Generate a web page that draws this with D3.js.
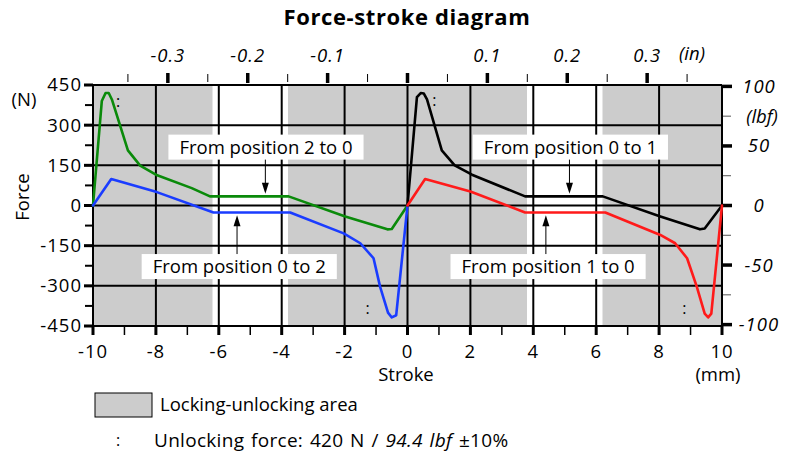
<!DOCTYPE html>
<html>
<head>
<meta charset="utf-8">
<script src="https://cdn.jsdelivr.net/npm/d3@7"></script>
<style>
  html, body { margin: 0; padding: 0; background: #fff; }
  svg { display: block; font-family: "Open Sans", "Liberation Sans", sans-serif; }
  .num { letter-spacing: 1px; }
</style>
</head>
<body>
<svg id="chart" width="797" height="454"></svg>
<script>
// Stroke (mm) and force (N) for each travel direction
const strokeGreen = [-10, -9.72, -9.6, -9.5, -9.4, -8.89, -8.5, -8.0, -6.86, -6.28, -3.78, -1.98, -0.64, -0.5, 0];
const forceGreen  = [0, 390, 420, 420, 396, 206, 149, 115, 65, 34, 34, -41, -89, -88, 0];

const strokeBlue = [-10, -9.42, -7.97, -6.17, -3.73, -2.03, -1.5, -1.08, -0.87, -0.62, -0.5, -0.36, 0];
const forceBlue  = [0, 99, 50, -26, -26, -104, -141, -197, -304, -400, -418, -410, 0];

const strokeBlack = [0, 0.3, 0.42, 0.52, 0.62, 1.09, 1.5, 2.05, 3.74, 6.21, 8.04, 9.3, 9.45, 10];
const forceBlack  = [0, 405, 420, 418, 396, 206, 150, 115, 34, 34, -41, -89, -86, 0];

const strokeRed = [0, 0.56, 2.0, 3.74, 6.29, 8.04, 8.51, 8.89, 9.2, 9.45, 9.56, 9.66, 10];
const forceRed  = [0, 99, 52, -26, -26, -110, -141, -197, -304, -404, -418, -404, 0];

// Locking-unlocking zones (mm)
const zoneStart = [-10, -3.8, 6.2];
const zoneEnd   = [-6.2, 3.8, 10];

// Axis ticks
const mmTicks = [-10, -8, -6, -4, -2, 0, 2, 4, 6, 8, 10];
const mmMinor = [-9, -7, -5, -3, -1, 1, 3, 5, 7, 9];
const newtonTicks = [-450, -300, -150, 0, 150, 300, 450];
const newtonMinor = [-375, -225, -75, 75, 225, 375];
const inchTicks = [-0.3, -0.2, -0.1, 0, 0.1, 0.2, 0.3];
const inchLabels = ["-0.3", "-0.2", "-0.1", "", "0.1", "0.2", "0.3"];
const inchMinor = [-0.35, -0.25, -0.15, -0.05, 0.05, 0.15, 0.25, 0.35];
const lbfTicks = [-100, -50, 0, 50, 100];
const lbfMinor = [-75, -25, 25, 75];

// Callouts: text, box centre (mm, N), arrow x (mm), arrow tip (N)
const calloutText  = ["From position 2 to 0", "From position 0 to 2", "From position 0 to 1", "From position 1 to 0"];
const calloutX     = [-4.5, -5.35, 5.18, 4.47];
const calloutY     = [218, -228, 218, -228];
const calloutArrowX = [-4.52, -5.42, 5.15, 4.4];
const calloutTip   = [44, -36, 44, -36];

// Unlocking force markers (mm, N)
const markX = [-9.2, 0.85, -1.27, 8.8];
const markY = [390, 393, -385, -385];

const N_PER_LBF = 4.44822;
const MM_PER_IN = 25.4;

const svg = d3.select("#chart");
const x = d3.scaleLinear().domain([-10, 10]).range([93, 722]);
const y = d3.scaleLinear().domain([-450, 450]).range([326, 85]);
const xIn = d3.scaleLinear().domain([-10 / MM_PER_IN, 10 / MM_PER_IN]).range([93, 722]);
const yLbf = d3.scaleLinear().domain([-450 / N_PER_LBF, 450 / N_PER_LBF]).range([326, 85]);

const gray = "#cccccc";
const signed = (d) => (d < 0 ? "-" + Math.abs(d) : String(d));

// Shaded zones
svg.append("g").selectAll("rect").data(zoneStart).join("rect")
  .attr("x", (d) => x(d))
  .attr("width", (d, i) => x(zoneEnd[i]) - x(d))
  .attr("y", y(450))
  .attr("height", y(-450) - y(450))
  .attr("fill", gray);

// Grid
const grid = svg.append("g").attr("stroke", "#000").attr("stroke-width", 2);
grid.selectAll("line.v").data(mmTicks).join("line")
  .attr("x1", (d) => x(d)).attr("x2", (d) => x(d))
  .attr("y1", y(450)).attr("y2", y(-450));
grid.selectAll("line.h").data(newtonTicks).join("line")
  .attr("class", "h")
  .attr("x1", x(-10)).attr("x2", x(10))
  .attr("y1", (d) => y(d)).attr("y2", (d) => y(d));

// Bottom axis (mm)
const axisBottomG = svg.append("g").attr("transform", `translate(0,${y(-450)})`);
axisBottomG.selectAll("line.maj").data(mmTicks).join("line")
  .attr("x1", (d) => x(d)).attr("x2", (d) => x(d))
  .attr("y1", 0).attr("y2", 9).attr("stroke", "#000").attr("stroke-width", 3);
axisBottomG.selectAll("line.min").data(mmMinor).join("line")
  .attr("class", "min")
  .attr("x1", (d) => x(d)).attr("x2", (d) => x(d))
  .attr("y1", 0).attr("y2", 9).attr("stroke", "#000").attr("stroke-width", 1.5);
axisBottomG.selectAll("text").data(mmTicks).join("text")
  .attr("class", "num")
  .attr("x", (d) => x(d)).attr("y", 32)
  .attr("text-anchor", "middle").attr("font-size", 18.5)
  .text(signed);

// Left axis (N)
const axisLeftG = svg.append("g").attr("transform", `translate(${x(-10)},0)`);
axisLeftG.selectAll("line.maj").data(newtonTicks).join("line")
  .attr("x1", -9).attr("x2", 0)
  .attr("y1", (d) => y(d)).attr("y2", (d) => y(d))
  .attr("stroke", "#000").attr("stroke-width", 3);
axisLeftG.selectAll("line.min").data(newtonMinor).join("line")
  .attr("class", "min")
  .attr("x1", -8).attr("x2", 0)
  .attr("y1", (d) => y(d)).attr("y2", (d) => y(d))
  .attr("stroke", "#000").attr("stroke-width", 2);
axisLeftG.selectAll("text").data(newtonTicks).join("text")
  .attr("class", "num")
  .attr("x", -11).attr("y", (d) => y(d))
  .attr("dy", "0.35em")
  .attr("text-anchor", "end").attr("font-size", 18.5)
  .text(signed);

// Top axis (in)
const axisTopG = svg.append("g");
axisTopG.selectAll("line.maj").data(inchTicks).join("line")
  .attr("x1", (d) => xIn(d)).attr("x2", (d) => xIn(d))
  .attr("y1", 73).attr("y2", 83)
  .attr("stroke", "#000").attr("stroke-width", 3.5);
axisTopG.selectAll("line.min").data(inchMinor).join("line")
  .attr("class", "min")
  .attr("x1", (d) => xIn(d)).attr("x2", (d) => xIn(d))
  .attr("y1", 74).attr("y2", 82)
  .attr("stroke", "#000").attr("stroke-width", 1);
axisTopG.selectAll("text").data(inchTicks).join("text")
  .attr("class", "num")
  .attr("x", (d) => xIn(d)).attr("y", 62)
  .attr("text-anchor", "middle").attr("font-size", 18.5).attr("font-style", "italic")
  .text((d, i) => inchLabels[i]);
axisTopG.append("text").attr("x", 692).attr("y", 60)
  .attr("text-anchor", "middle").attr("font-size", 18.5).attr("font-style", "italic")
  .text("(in)");

// Right axis (lbf)
const axisRightG = svg.append("g").attr("transform", `translate(${x(10)},0)`);
axisRightG.selectAll("line.maj").data(lbfTicks).join("line")
  .attr("x1", 0).attr("x2", 10)
  .attr("y1", (d) => yLbf(d)).attr("y2", (d) => yLbf(d))
  .attr("stroke", "#000").attr("stroke-width", 3.5);
axisRightG.selectAll("line.min").data(lbfMinor).join("line")
  .attr("class", "min")
  .attr("x1", 0).attr("x2", 9)
  .attr("y1", (d) => yLbf(d)).attr("y2", (d) => yLbf(d))
  .attr("stroke", "#555").attr("stroke-width", 1);
axisRightG.selectAll("text").data(lbfTicks).join("text")
  .attr("class", "num")
  .attr("x", 37).attr("y", (d) => yLbf(d))
  .attr("dy", "0.35em")
  .attr("text-anchor", "middle").attr("font-size", 18.5).attr("font-style", "italic")
  .text(signed);
axisRightG.append("text").attr("x", 40).attr("y", yLbf(75)).attr("dy", "0.35em")
  .attr("text-anchor", "middle").attr("font-size", 18.5).attr("font-style", "italic")
  .text("(lbf)");

// Frame edges
svg.append("line").attr("x1", x(-10)).attr("x2", x(-10)).attr("y1", y(450)).attr("y2", y(-450))
  .attr("stroke", "#000").attr("stroke-width", 2);
svg.append("line").attr("x1", x(10)).attr("x2", x(10)).attr("y1", y(450)).attr("y2", y(-450))
  .attr("stroke", "#000").attr("stroke-width", 2);

// Axis titles
svg.append("text").attr("x", 24).attr("y", 100).attr("dy", "0.35em")
  .attr("text-anchor", "middle").attr("font-size", 18.5).text("(N)");
svg.append("text").attr("transform", "translate(23,197) rotate(-90)").attr("dy", "0.35em")
  .attr("text-anchor", "middle").attr("font-size", 18.5).text("Force");
svg.append("text").attr("x", 406).attr("y", 381)
  .attr("text-anchor", "middle").attr("font-size", 18.5).text("Stroke");
svg.append("text").attr("x", 718).attr("y", 381)
  .attr("text-anchor", "middle").attr("font-size", 18.5).text("(mm)");

// Title
svg.append("text").attr("x", 407).attr("y", 25)
  .attr("text-anchor", "middle").attr("font-size", 22).attr("font-weight", "bold")
  .attr("letter-spacing", 0.6)
  .text("Force-stroke diagram");

// Curves
const line = d3.line().x((d) => x(d[0])).y((d) => y(d[1]));
const series = [
  { xs: strokeGreen, ys: forceGreen, color: "#0a8a0a" },
  { xs: strokeBlue, ys: forceBlue, color: "#1a3cff" },
  { xs: strokeBlack, ys: forceBlack, color: "#000000" },
  { xs: strokeRed, ys: forceRed, color: "#ff1a1a" }
];
svg.append("g").selectAll("path").data(series).join("path")
  .attr("d", (s) => line(s.xs.map((v, i) => [v, s.ys[i]])))
  .attr("fill", "none")
  .attr("stroke", (s) => s.color)
  .attr("stroke-width", 2.6)
  .attr("stroke-linejoin", "round")
  .attr("stroke-linecap", "round");

// Unlocking force markers
svg.append("g").selectAll("text").data(markX).join("text")
  .attr("x", (d) => x(d)).attr("y", (d, i) => y(markY[i]))
  .attr("dy", "0.35em")
  .attr("text-anchor", "middle").attr("font-size", 16)
  .text(":");

// Callouts
const callouts = svg.append("g");
calloutText.forEach((t, i) => {
  const g = callouts.append("g");
  const txt = g.append("text")
    .attr("x", x(calloutX[i])).attr("y", y(calloutY[i]))
    .attr("dy", "0.35em")
    .attr("text-anchor", "middle").attr("font-size", 18.5)
    .text(t);
  const bb = txt.node().getBBox();
  const w = bb.width + 22, h = 25;
  const cx = x(calloutX[i]), cy = y(calloutY[i]);
  g.insert("rect", "text")
    .attr("x", cx - w / 2).attr("y", cy - h / 2)
    .attr("width", w).attr("height", h)
    .attr("fill", "#fff");
  // Arrow from box edge towards the curve
  const ax = x(calloutArrowX[i]);
  const tip = y(calloutTip[i]);
  const startY = tip > cy ? cy + h / 2 : cy - h / 2;
  const dir = tip > startY ? 1 : -1;
  g.append("line")
    .attr("x1", ax).attr("x2", ax)
    .attr("y1", startY).attr("y2", tip - dir * 8)
    .attr("stroke", "#000").attr("stroke-width", 1);
  g.append("path")
    .attr("d", `M${ax},${tip} L${ax - 3.5},${tip - dir * 11} L${ax + 3.5},${tip - dir * 11} Z`)
    .attr("fill", "#000");
});

// Legend
const legend = svg.append("g");
legend.append("rect").attr("x", 95).attr("y", 393).attr("width", 57).attr("height", 24)
  .attr("fill", gray).attr("stroke", "#000").attr("stroke-width", 1);
legend.append("text").attr("x", 160).attr("y", 405).attr("dy", "0.35em")
  .attr("font-size", 18.5).text("Locking-unlocking area");
legend.append("text").attr("x", 118).attr("y", 440).attr("dy", "0.35em")
  .attr("text-anchor", "middle").attr("font-size", 16).text(":");
const note = legend.append("text").attr("x", 154).attr("y", 440).attr("dy", "0.35em")
  .attr("font-size", 19).attr("word-spacing", 1.5).attr("letter-spacing", 0.3);
note.append("tspan").text("Unlocking force: 420 N / ");
note.append("tspan").attr("font-style", "italic").text("94.4 lbf");
note.append("tspan").text(" ±10%");
</script>
</body>
</html>
